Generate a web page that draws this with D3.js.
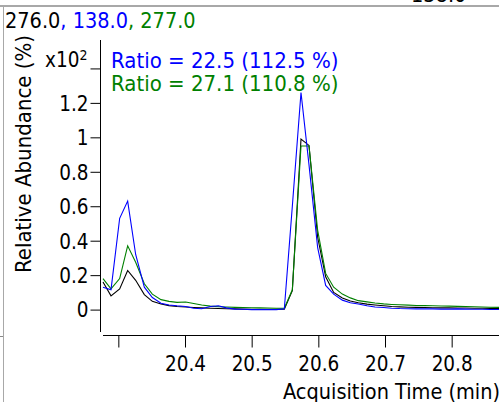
<!DOCTYPE html>
<html>
<head>
<meta charset="utf-8">
<script src="https://cdn.jsdelivr.net/npm/d3@7"></script>
<style>
  html, body { margin: 0; padding: 0; background: #fff; }
  svg { display: block; }
  text { font-family: "DejaVu Sans Condensed", "DejaVu Sans", sans-serif; font-stretch: condensed; }
</style>
</head>
<body>
<svg id="chart" width="499" height="402"></svg>
<script>
// Acquisition times (min)
const times = [20.277, 20.289, 20.302, 20.314, 20.326, 20.339, 20.351, 20.364, 20.376, 20.388,
  20.401, 20.413, 20.425, 20.438, 20.450, 20.462, 20.475, 20.487, 20.500, 20.512,
  20.524, 20.537, 20.549, 20.561, 20.574, 20.586, 20.599, 20.611, 20.623, 20.636,
  20.648, 20.660, 20.673, 20.685, 20.698, 20.710, 20.722, 20.735, 20.747, 20.759,
  20.772, 20.784, 20.796, 20.809, 20.821, 20.834, 20.846, 20.858, 20.871];

// Relative abundance (x10^2 %)
const ion276 = [0.16, 0.08, 0.12, 0.227, 0.17, 0.087, 0.048, 0.033, 0.023, 0.018,
  0.015, 0.012, 0.010, 0.008, 0.006, 0.005, 0.004, 0.003, 0.002, 0.002,
  0.002, 0.002, 0.003, 0.11, 0.99, 0.953, 0.42, 0.19, 0.10, 0.068,
  0.050, 0.040, 0.032, 0.027, 0.022, 0.018, 0.016, 0.014, 0.013, 0.012,
  0.011, 0.010, 0.010, 0.009, 0.009, 0.008, 0.008, 0.007, 0.007];

const ion138 = [0.13, 0.115, 0.53, 0.63, 0.32, 0.13, 0.07, 0.037, 0.027, 0.022,
  0.018, 0.008, 0.005, 0.018, 0.022, 0.010, 0.003, 0.002, 0.000, 0.000,
  0.000, 0.000, 0.005, 0.60, 1.26, 0.84, 0.36, 0.14, 0.09, 0.055,
  0.040, 0.033, 0.022, 0.015, 0.012, 0.008, 0.006, 0.005, 0.004, 0.005,
  0.004, 0.003, 0.003, 0.004, 0.003, 0.002, 0.002, 0.001, 0.001];

const ion277 = [0.18, 0.12, 0.18, 0.37, 0.275, 0.15, 0.09, 0.058, 0.048, 0.042,
  0.044, 0.035, 0.027, 0.020, 0.017, 0.015, 0.013, 0.012, 0.011, 0.010,
  0.009, 0.008, 0.008, 0.115, 0.95, 0.95, 0.46, 0.21, 0.13, 0.09,
  0.068, 0.052, 0.045, 0.038, 0.033, 0.030, 0.028, 0.026, 0.024, 0.023,
  0.022, 0.021, 0.020, 0.019, 0.018, 0.017, 0.015, 0.014, 0.013];

const series = [
  { name: "276.0", values: ion276, color: "#000000" },
  { name: "277.0", values: ion277, color: "#008000" },
  { name: "138.0", values: ion138, color: "#0000ff" }
];

const yTickValues = [0, 0.2, 0.4, 0.6, 0.8, 1, 1.2, 1.4];
const yTickLabels = ["0", "0.2", "0.4", "0.6", "0.8", "1", "1.2", ""];
const xTickValues = [20.3, 20.4, 20.5, 20.6, 20.7, 20.8];
const xTickLabels = ["", "20.4", "20.5", "20.6", "20.7", "20.8"];

const ratioLines = [
  { text: "Ratio = 22.5 (112.5 %)", color: "#0000ff" },
  { text: "Ratio = 27.1 (110.8 %)", color: "#008000" }
];
const titleParts = [
  { text: "276.0", color: "#000000" },
  { text: ", 138.0", color: "#0000ff" },
  { text: ", 277.0", color: "#008000" }
];

const svg = d3.select("#chart");
const FS = 22;

// outer frame bits
svg.append("line").attr("x1", 0).attr("x2", 499).attr("y1", 6).attr("y2", 6)
  .attr("stroke", "#a8a8a8").attr("stroke-width", 2);
svg.append("line").attr("x1", 3.5).attr("x2", 3.5).attr("y1", 7).attr("y2", 402)
  .attr("stroke", "#a8a8a8").attr("stroke-width", 1);
svg.append("line").attr("x1", 0).attr("x2", 3).attr("y1", 336.5).attr("y2", 336.5)
  .attr("stroke", "#888").attr("stroke-width", 1);
svg.append("text").attr("x", 411).attr("y", 2).attr("font-size", 21.5).attr("fill", "#000").text("138.0");

// scales
const x = d3.scaleLinear().domain([20.277, 20.871]).range([103, 499]);
const y = d3.scaleLinear().domain([-0.13, 1.565]).range([332, 40]);

// title
const title = svg.append("text").attr("x", 5).attr("y", 28).attr("font-size", 21.5);
titleParts.forEach(p => title.append("tspan").attr("fill", p.color).text(p.text));

// y axis
const yAxisG = svg.append("g").attr("transform", "translate(100.5,0)")
  .call(d3.axisLeft(y).tickValues(yTickValues).tickSize(10).tickSizeOuter(0)
    .tickFormat((d, i) => yTickLabels[i]));
yAxisG.select(".domain").remove();
yAxisG.append("line").attr("x1", 0).attr("x2", 0).attr("y1", y.range()[1]).attr("y2", y.range()[0])
  .attr("stroke", "#000");
yAxisG.selectAll(".tick line").attr("stroke", "#000");
yAxisG.selectAll(".tick text").attr("font-size", 20.5).attr("fill", "#000")
  .attr("x", -12).attr("dy", "0.36em")
  .style("font-family", '"DejaVu Sans Condensed", "DejaVu Sans", sans-serif');

// x10^2 label
const mult = svg.append("text").attr("x", 45).attr("y", 67).attr("font-size", 20.5).attr("fill", "#000");
mult.append("tspan").text("x10");
mult.append("tspan").attr("font-size", 14).attr("dy", -7).text("2");

// x axis
const xAxisG = svg.append("g").attr("transform", "translate(0,335.5)")
  .call(d3.axisBottom(x).tickValues(xTickValues).tickSize(12).tickSizeOuter(0)
    .tickFormat((d, i) => xTickLabels[i]));
xAxisG.select(".domain").remove();
xAxisG.append("line").attr("x1", x.range()[0]).attr("x2", x.range()[1]).attr("y1", 0).attr("y2", 0)
  .attr("stroke", "#000");
xAxisG.selectAll(".tick line").attr("stroke", "#000");
xAxisG.selectAll(".tick text").attr("font-size", 20.5).attr("fill", "#000")
  .attr("y", 35.5).attr("dy", 0)
  .style("font-family", '"DejaVu Sans Condensed", "DejaVu Sans", sans-serif');

// axis titles
svg.append("text").attr("x", 283).attr("y", 399).attr("font-size", 21.5).attr("fill", "#000")
  .text("Acquisition Time (min)");
svg.append("text").attr("transform", "translate(31,273) rotate(-90)")
  .attr("font-size", 22).attr("fill", "#000").text("Relative Abundance (%)");

// ratio annotations
ratioLines.forEach((r, i) => {
  svg.append("text").attr("x", 111).attr("y", 68 + i * 23).attr("font-size", FS)
    .attr("fill", r.color).text(r.text);
});

// clip + lines
svg.append("clipPath").attr("id", "plotclip").append("rect")
  .attr("x", 101).attr("y", 0).attr("width", 398).attr("height", 334);
const line = d3.line().x((d, i) => x(times[i])).y(d => y(d));
const plot = svg.append("g").attr("clip-path", "url(#plotclip)");
series.forEach(s => {
  plot.append("path").datum(s.values).attr("d", line)
    .attr("fill", "none").attr("stroke", s.color).attr("stroke-width", 1.1)
    .attr("stroke-linejoin", "miter");
});
</script>
</body>
</html>
